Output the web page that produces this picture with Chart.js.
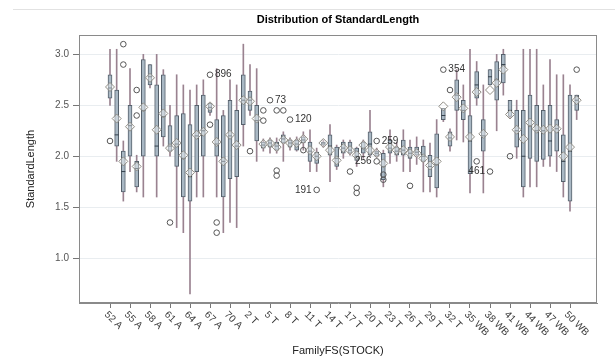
<!DOCTYPE html>
<html><head><meta charset="utf-8">
<script src="https://cdn.jsdelivr.net/npm/chart.js@4.4.1/dist/chart.umd.min.js"></script>
<style>html,body{margin:0;padding:0;background:#fff}</style>
</head><body>
<canvas id="c" width="615" height="362"></canvas>
<script>
const categories = ['52 A','53 A','54 A','55 A','56 A','57 A','58 A','59 A','60 A','61 A',
 '62 A','63 A','64 A','65 A','66 A','67 A','68 A','69 A','70 A','71 A',
 '1 T','2 T','3 T','4 T','5 T','6 T','7 T','8 T','9 T','10 T',
 '11 T','12 T','13 T','14 T','15 T','16 T','17 T','18 T','19 T','20 T',
 '21 T','22 T','23 T','24 T','25 T','26 T','27 T','28 T','29 T','30 T',
 '31 T','32 T','33 T','34 WB','35 WB','36 WB','37 WB','38 WB','39 WB','40 WB',
 '41 WB','42 WB','43 WB','44 WB','45 WB','46 WB','47 WB','48 WB','49 WB','50 WB',
 '51 WB'];
const tickCategories = ['52 A','55 A','58 A','61 A','64 A','67 A','70 A','2 T','5 T','8 T','11 T','14 T',
 '17 T','20 T','23 T','26 T','29 T','32 T','35 WB','38 WB','41 WB','44 WB','47 WB','50 WB'];
const whiskerLow = [2.50,1.95,1.56,1.85,1.65,1.60,2.67,1.60,2.10,2.00, 1.30,1.25,0.65,1.60,1.60,2.40,1.60,1.25,1.35,1.30,
 2.10,2.40,1.95,2.05,2.03,2.03,1.95,2.06,2.05,2.06, 1.85,1.85,2.09,1.75,1.87,1.98,2.01,1.90,1.98,2.00,
 1.99,1.70,1.93,1.95,1.85,1.85,1.92,1.65,1.65,1.60, 2.34,2.05,2.16,2.14,1.64,2.50,1.64,2.70,2.25,2.60,
 2.37,1.98,1.60,1.70,1.70,1.90,1.90,1.85,1.60,1.46, 2.36];
const q1 = [2.57,2.10,1.65,2.00,1.70,2.00,2.70,2.00,2.19,2.05, 1.90,1.60,1.56,1.85,2.00,2.43,2.00,1.60,1.78,1.80,
 2.31,2.45,2.15,2.08,2.09,2.06,2.13,2.09,2.06,2.13, 1.95,1.93,2.11,2.01,1.90,2.03,2.03,1.96,2.03,2.01,
 2.00,1.77,2.03,2.01,2.01,1.98,2.01,1.95,1.80,1.69, 2.36,2.10,2.45,2.36,1.83,2.57,2.05,2.70,2.55,2.72,
 2.39,2.09,1.70,1.98,1.95,1.97,2.00,2.05,1.75,1.56, 2.45];
const median = [2.67,2.21,1.85,2.30,1.88,2.45,2.78,2.10,2.39,2.10, 2.12,1.98,1.80,2.20,2.25,2.48,2.12,1.95,2.20,2.10,
 2.55,2.55,2.35,2.11,2.13,2.10,2.17,2.13,2.12,2.16, 2.05,2.00,2.13,2.10,1.98,2.08,2.06,2.00,2.08,2.12,
 2.03,1.90,2.08,2.05,2.06,2.03,2.04,2.00,1.90,1.92, 2.40,2.18,2.60,2.45,2.15,2.70,2.20,2.78,2.75,2.90,
 2.45,2.25,2.00,2.30,2.25,2.25,2.15,2.27,1.95,2.05, 2.55];
const q3 = [2.80,2.65,2.05,2.50,1.95,2.95,2.90,2.70,2.80,2.30, 2.40,2.42,2.31,2.50,2.60,2.52,2.36,2.40,2.55,2.45,
 2.80,2.64,2.50,2.14,2.16,2.14,2.21,2.16,2.16,2.19, 2.14,2.04,2.14,2.21,2.09,2.14,2.14,2.08,2.14,2.24,
 2.05,2.03,2.16,2.09,2.16,2.09,2.09,2.10,2.01,2.22, 2.47,2.24,2.75,2.55,2.40,2.83,2.36,2.85,2.93,3.00,
 2.55,2.45,2.45,2.60,2.50,2.45,2.50,2.36,2.21,2.60, 2.60];
const whiskerHigh = [3.05,3.05,2.15,2.86,2.01,3.00,2.90,3.00,2.85,2.50, 2.80,2.70,2.65,2.70,2.75,2.52,2.86,2.45,2.75,2.70,
 3.10,2.90,2.86,2.17,2.18,2.18,2.24,2.18,2.19,2.24, 2.26,2.08,2.16,2.31,2.11,2.16,2.16,2.09,2.16,2.45,
 2.08,2.06,2.26,2.14,2.26,2.16,2.19,2.16,2.13,2.36, 2.47,2.27,2.85,2.70,3.05,2.93,2.70,2.85,3.00,3.05,
 2.55,2.55,3.05,3.05,3.05,2.70,2.95,2.80,2.80,2.70, 2.60];
const means = [2.68,2.37,1.95,2.29,1.90,2.48,2.77,2.26,2.42,2.08, 2.13,2.01,1.84,2.21,2.24,2.49,2.14,1.95,2.21,2.11,
 2.55,2.54,2.37,2.12,2.13,2.09,2.16,2.13,2.13,2.17, 2.06,2.00,2.13,2.06,1.96,2.08,2.06,2.01,2.11,2.06,
 2.03,1.93,2.09,2.06,2.06,2.03,2.03,1.98,1.91,1.95, 2.49,2.19,2.58,2.47,2.19,2.63,2.22,2.65,2.72,2.85,
 2.41,2.26,2.17,2.33,2.27,2.26,2.27,2.27,2.00,2.09, 2.55];
const outlierCat = [0, 2,2, 4,4, 9, 15,15, 16,16, 21, 23,23, 24, 25,25,25, 26, 27, 29, 31, 36, 37,37, 40,40, 41,41, 45, 50, 51, 55, 57, 60, 70];
const outlierVal = [2.15, 3.10,2.90, 2.65,2.40, 1.35, 2.80,2.31, 1.35,1.25, 2.05, 2.45,2.35, 2.55, 2.45,1.86,1.81, 2.45, 2.36, 2.06, 1.67, 1.85, 1.69,1.64, 2.15,1.95, 1.82,1.77, 1.71, 2.85, 2.65, 1.95, 1.85, 2.00, 2.85];
const outlierLabel = ['', '','', '','', '', '896','', '','', '', '','', '73', '','','', '', '120', '', '191', '', '','', '259','256', '','', '', '354', '', '', '461', '', ''];
const yTicks = [1.0, 1.5, 2.0, 2.5, 3.0];

const FONT = 'Liberation Sans, Arial, sans-serif';
const leftLabels = new Set(['191','256','461']);

const xy = (arr) => arr.map((v, i) => ({x: i, y: v}));

const decorPlugin = {
  id: 'decor',
  beforeDatasetsDraw(chart) {
    const {ctx, chartArea: a} = chart;
    ctx.save();
    ctx.strokeStyle = '#8a8a8a';
    ctx.lineWidth = 1;
    ctx.strokeRect(a.left + 0.5, a.top + 0.5, a.right - a.left - 1, a.bottom - a.top - 1);
    ctx.restore();
  },
  afterDraw(chart) {
    const {ctx, chartArea: a, scales} = chart;
    const xs = scales.x, ys = scales.y;
    ctx.save();
    ctx.strokeStyle = '#e2e2e2';
    ctx.beginPath(); ctx.moveTo(13, 9.5); ctx.lineTo(615, 9.5); ctx.stroke();
    ctx.fillStyle = '#000';
    ctx.font = 'bold 11px ' + FONT;
    ctx.textAlign = 'center'; ctx.textBaseline = 'middle';
    ctx.fillText('Distribution of StandardLength', (a.left + a.right) / 2, 20);
    ctx.font = '10px ' + FONT;
    ctx.fillStyle = '#3a3a3a';
    tickCategories.forEach((lab) => {
      const i = categories.indexOf(lab);
      const px = xs.getPixelForValue(i);
      ctx.save();
      ctx.translate(px - 4, a.bottom + 10);
      ctx.rotate(Math.PI / 4);
      ctx.textAlign = 'left'; ctx.textBaseline = 'middle';
      ctx.fillText(lab, 0, 0);
      ctx.restore();
    });
    ctx.font = '10px ' + FONT;
    ctx.fillStyle = '#333';
    ctx.textBaseline = 'middle';
    outlierLabel.forEach((lab, k) => {
      if (!lab) return;
      const px = xs.getPixelForValue(outlierCat[k]);
      const py = ys.getPixelForValue(outlierVal[k]);
      if (leftLabels.has(lab)) { ctx.textAlign = 'right'; ctx.fillText(lab, px - 5, py); }
      else { ctx.textAlign = 'left'; ctx.fillText(lab, px + 5, py); }
    });
    ctx.restore();
  }
};

new Chart(document.getElementById('c'), {
  type: 'bar',
  data: {
    datasets: [
      { type: 'scatter', label: 'Outliers', order: 1,
        data: outlierCat.map((c, k) => ({x: c, y: outlierVal[k]})),
        pointStyle: 'circle', pointRadius: 2.8, borderColor: '#555', backgroundColor: 'rgba(0,0,0,0)', borderWidth: 1 },
      { type: 'scatter', label: 'Mean', order: 2, data: xy(means),
        pointStyle: 'rectRot', pointRadius: 4.5, borderColor: '#8f8c84', backgroundColor: 'rgba(255,255,255,0.4)', borderWidth: 1 },
      { type: 'scatter', label: 'Median', order: 3, data: xy(median),
        pointStyle: 'line', pointRadius: 2, borderColor: '#34404c', borderWidth: 1 },
      { type: 'bar', label: 'Box', order: 4, grouped: false,
        data: q1.map((v, i) => ({x: i, y: [v, q3[i]]})),
        barThickness: 4, backgroundColor: '#a9b8c4', borderColor: '#56616c', borderWidth: 1, borderSkipped: false },
      { type: 'bar', label: 'Whisker', order: 5, grouped: false,
        data: whiskerLow.map((v, i) => ({x: i, y: [v, whiskerHigh[i]]})),
        barThickness: 1, backgroundColor: '#9a8290', borderWidth: 0 }
    ]
  },
  options: {
    responsive: false,
    animation: false,
    events: [],
    devicePixelRatio: 1,
    layout: { padding: { left: 20, right: 18, top: 35, bottom: 0 } },
    plugins: { legend: { display: false }, title: { display: false }, tooltip: { enabled: false } },
    scales: {
      x: {
        type: 'linear', min: -4.65, max: 73.05, offset: false,
        afterBuildTicks: (s) => { s.ticks = tickCategories.map(l => ({value: categories.indexOf(l)})); },
        afterFit: (s) => { s.height = 59; },
        ticks: { display: false },
        grid: { drawOnChartArea: false, drawTicks: true, tickLength: 5, tickColor: '#777', offset: false },
        border: { color: '#8a8a8a' },
        title: { display: true, text: 'FamilyFS(STOCK)', color: '#222', font: { family: FONT, size: 11 }, padding: { top: 4, bottom: 4 } }
      },
      y: {
        type: 'linear', min: 0.56, max: 3.19,
        afterBuildTicks: (s) => { s.ticks = yTicks.map(v => ({value: v})); },
        afterFit: (s) => { s.width = 59; },
        ticks: { callback: (v) => Number(v).toFixed(1), color: '#555', font: { family: FONT, size: 10 }, padding: 4 },
        grid: { color: '#e9edf0', tickColor: '#777', tickLength: 6 },
        border: { color: '#8a8a8a' },
        title: { display: true, text: 'StandardLength', color: '#222', font: { family: FONT, size: 11 }, padding: { top: 4, bottom: 4 } }
      }
    }
  },
  plugins: [decorPlugin]
});
</script>
</body></html>
